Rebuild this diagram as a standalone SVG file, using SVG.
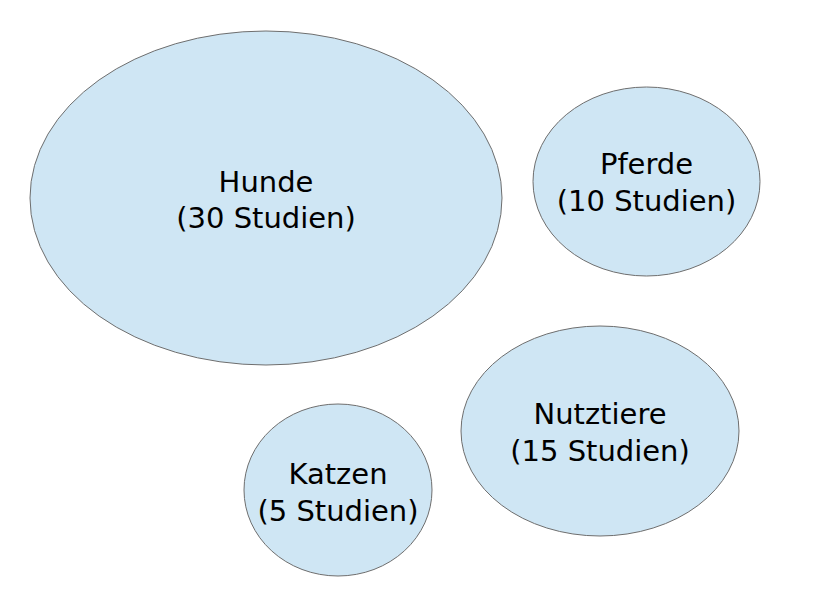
<svg xmlns="http://www.w3.org/2000/svg" width="838" height="603" viewBox="0 0 838 603">
<style>
.n{fill:#cfe6f4;stroke:#6e6e6e;stroke-width:1}
text{font-family:"DejaVu Sans",sans-serif;font-size:29px;fill:#000;text-anchor:middle}
</style>
<rect width="838" height="603" fill="#fff"/>
<g id="hunde"><ellipse class="n" cx="266" cy="198" rx="236" ry="167"/><text x="266" y="192">Hunde</text><text x="266" y="228">(30 Studien)</text></g>
<g id="pferde"><ellipse class="n" cx="646.5" cy="181.5" rx="113.5" ry="94.5"/><text x="646.5" y="174">Pferde</text><text x="646.5" y="211">(10 Studien)</text></g>
<g id="nutztiere"><ellipse class="n" cx="600" cy="431" rx="139" ry="105"/><text x="600" y="424">Nutztiere</text><text x="600" y="461">(15 Studien)</text></g>
<g id="katzen"><ellipse class="n" cx="338" cy="490" rx="94" ry="86"/><text x="338" y="484">Katzen</text><text x="338" y="521">(5 Studien)</text></g>
<g id="connectors"/>
</svg>
